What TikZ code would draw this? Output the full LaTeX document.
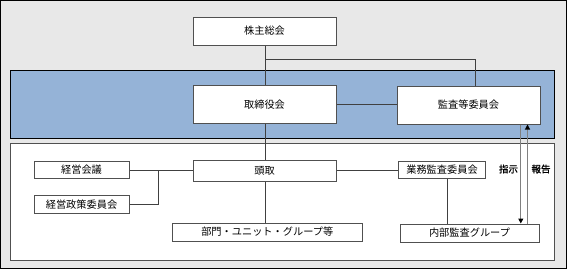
\documentclass[tikz,border=0pt]{standalone}
\usepackage{fontspec}
\newfontfamily\cjk{Noto Sans CJK JP}
\newfontfamily\cjkb[FakeBold=1.5]{Noto Sans CJK JP}
\usetikzlibrary{arrows.meta}
\definecolor{bgcol}{HTML}{E8E8E8}
\definecolor{bandcol}{HTML}{95B3D7}
\definecolor{boxline}{HTML}{505050}
\definecolor{conn}{HTML}{404040}
\begin{document}
\begin{tikzpicture}[x=1pt,y=-1pt,
  box/.style={draw=boxline,line width=1pt,fill=white,inner sep=0pt,font=\cjk\fontsize{10.2}{11}\selectfont},
  lbl/.style={inner sep=0pt,font=\cjkb\fontsize{9.5}{10}\selectfont},
  cn/.style={draw=conn,line width=0.9pt},
  ar/.style={draw=gray,line width=1.1pt,-{Triangle[length=5pt,width=5pt,color=black]}}]
\useasboundingbox (0,0) rectangle (567,269);
\fill[bgcol,draw=black,line width=1pt] (0.5,0.5) rectangle (566.5,268.5);
\fill[bandcol,draw=black,line width=0.8pt] (10.5,70.5) rectangle (554,138);
\fill[white,draw=boxline,line width=0.8pt] (10,143) rectangle (554,260);
% boxes
\node[box,minimum width=143pt,minimum height=28pt] (gm) at (264.5,31) {株主総会};
\node[box,minimum width=143pt,minimum height=38.5pt] (bd) at (264.5,104.5) {取締役会};
\node[box,minimum width=143pt,minimum height=38pt] (ac) at (468.5,105) {監査等委員会};
\node[box,minimum width=95pt,minimum height=17.5pt] (km) at (81.5,170) {経営会議};
\node[box,minimum width=95pt,minimum height=18pt] (ks) at (81.5,204.5) {経営政策委員会};
\node[box,minimum width=143pt,minimum height=20.5pt] (pr) at (264.5,171) {頭取};
\node[box,minimum width=87pt,minimum height=17.5pt] (ga) at (442,170) {業務監査委員会};
\node[box,minimum width=189.5pt,minimum height=18pt] (dp) at (267.25,232) {部門・ユニット・グループ等};
\node[box,minimum width=139pt,minimum height=18pt] (ia) at (469.5,233) {内部監査グループ};
% connectors
\coordinate (j1) at (265.5,59);
\coordinate (j2) at (475.7,59);
\coordinate (j3) at (158.7,170);
\draw[cn] (gm.south -| j1) -- (bd.north -| j1);
\draw[cn] (j1) -- (j2) -- (ac.north -| j2);
\draw[cn] (bd.east |- 0,104.3) -- (ac.west |- 0,104.3);
\draw[cn] (bd.south -| j1) -- (pr.north -| j1);
\draw[cn] (pr.south -| j1) -- (dp.north -| j1);
\draw[cn] (km.east) -- (pr.west |- km.east);
\draw[cn] (j3) |- (ks.east);
\draw[cn] (pr.east |- ga.west) -- (ga.west);
\draw[cn] (ga.south -| 447.8,0) -- (ia.north -| 447.8,0);
% arrows
\draw[ar] (ac.south -| 520.8,0) -- (ia.north -| 520.8,0);
\draw[ar] (ia.north -| 527.5,0) -- (ac.south -| 527.5,0);
\node[lbl] (l1) at (508.5,169) {指示};
\node[lbl] (l2) at (541,169) {報告};
\end{tikzpicture}
\end{document}
